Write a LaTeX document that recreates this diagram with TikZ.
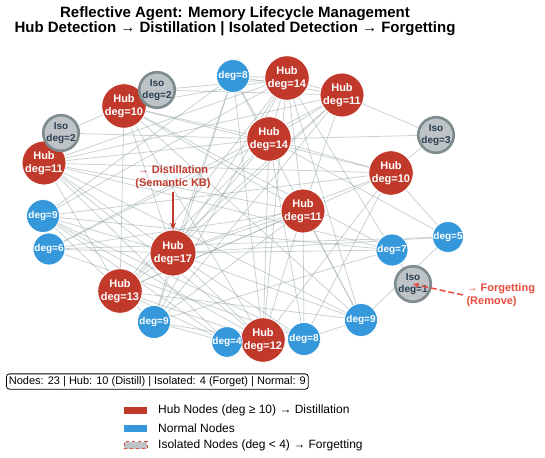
\documentclass[tikz,border=0pt]{standalone}
\usepackage{fontspec}
\setmainfont{Liberation Sans}
\usetikzlibrary{arrows.meta}
\pgfdeclarelayer{background}
\pgfsetlayers{background,main}

\definecolor{hubred}{HTML}{C0392B}
\definecolor{normblue}{HTML}{3498DB}
\definecolor{isofill}{HTML}{BDC3C7}
\definecolor{isoring}{HTML}{7F8C8D}
\definecolor{forgetred}{HTML}{E74C3C}
\definecolor{textdark}{HTML}{2C3E50}
\definecolor{edgegray}{HTML}{95A5A6}

\tikzset{
  hub/.style={circle, fill=hubred, draw=white, line width=0.8pt, text=white,
    inner sep=0pt, align=center, font=\bfseries\fontsize{11}{12.5}\selectfont},
  normal/.style={circle, fill=normblue, draw=white, line width=0.8pt, text=white,
    inner sep=0pt, align=center, font=\bfseries\fontsize{10}{12}\selectfont},
  isolated/.style={circle, fill=isofill, draw=isoring, line width=2.6pt, text=textdark,
    inner sep=0pt, minimum size=31pt, align=center, font=\bfseries\fontsize{10}{11.5}\selectfont},
  isomark/.style={forgetred, line width=1.4pt},
  link/.style={edgegray, opacity=0.5, line width=0.8pt},
  redlabel/.style={align=center, font=\bfseries\fontsize{11}{12.5}\selectfont},
  legendtext/.style={anchor=west, inner sep=0pt, font=\fontsize{12}{14}\selectfont},
}

\begin{document}
\begin{tikzpicture}[x=1pt,y=-1pt]
\useasboundingbox (0,0) rectangle (545,457);

% title
\node[align=center, inner sep=0pt, font=\bfseries\fontsize{15}{15}\selectfont] (title) at (235,21)
  {Reflective Agent: Memory Lifecycle Management\\Hub Detection → Distillation | Isolated Detection → Forgetting};

% hub nodes
\node[hub, minimum size=43pt] (h1) at (287,78) {Hub\\deg=14};
\node[hub, minimum size=41pt] (h2) at (342,95) {Hub\\deg=11};
\node[hub, minimum size=41pt] (h3) at (124,106) {Hub\\deg=10};
\node[hub, minimum size=43pt] (h4) at (269,139) {Hub\\deg=14};
\node[hub, minimum size=41pt] (h5) at (44,163) {Hub\\deg=11};
\node[hub, minimum size=41pt] (h6) at (391,173) {Hub\\deg=10};
\node[hub, minimum size=41pt] (h7) at (303,211) {Hub\\deg=11};
\node[hub, minimum size=46pt] (h8) at (173,253) {Hub\\deg=17};
\node[hub, minimum size=42pt] (h9) at (120,291) {Hub\\deg=13};
\node[hub, minimum size=41pt] (h10) at (263,340) {Hub\\deg=12};

% normal nodes
\node[normal, minimum size=33pt] (n1) at (233,76) {deg=8};
\node[normal, minimum size=33pt] (n2) at (43,216) {deg=9};
\node[normal, minimum size=32pt] (n3) at (49,249) {deg=6};
\node[normal, minimum size=32pt] (n4) at (392,250) {deg=7};
\node[normal, minimum size=31pt] (n5) at (448,237) {deg=5};
\node[normal, minimum size=33pt] (n6) at (154,322) {deg=9};
\node[normal, minimum size=30pt] (n7) at (227,342) {deg=4};
\node[normal, minimum size=33pt] (n8) at (304,339) {deg=8};
\node[normal, minimum size=33pt] (n9) at (361,320) {deg=9};

% isolated nodes, each with red forgetting marks on its rim
\foreach \p/\q in {157/90, 61/133, 436/135, 413/284}{
  \draw[isomark] (\p,\q) ++(-12:16.9pt) arc[start angle=-12, end angle=12, radius=16.9pt];
  \draw[isomark] (\p,\q) ++(168:16.9pt) arc[start angle=168, end angle=192, radius=16.9pt];
}
\node[isolated] (i1) at (157,90) {Iso\\deg=2};
\node[isolated] (i2) at (61,133) {Iso\\deg=2};
\node[isolated] (i3) at (436,135) {Iso\\deg=3};
\node[isolated] (i4) at (413,284) {Iso\\deg=1};

% graph edges
\begin{pgfonlayer}{background}
\foreach \a/\b in {
  i1/h1, i1/h2, i2/h3, i2/h4, i3/h2, i3/h4, i3/h6, i4/n4,
  h8/h1, h8/h2, h8/h3, h8/h4, h8/h5, h8/h6, h8/h7, h8/h9, h8/h10,
  h8/n1, h8/n2, h8/n3, h8/n4, h8/n6, h8/n8, h8/n9, h8/n5,
  h1/h2, h1/h3, h1/h4, h1/h5, h1/h7, h1/h9, h1/h10, h1/n1, h1/n2, h1/n6, h1/n9, h1/n4,
  h4/h2, h4/h3, h4/h5, h4/h6, h4/h9, h4/h10, h4/n1, h4/n3, h4/n8, h4/n5,
  h9/h2, h9/h3, h9/h5, h9/h6, h9/h7, h9/h10, h9/n2, h9/n6, h9/n7, h9/n9,
  h10/h3, h10/h5, h10/h6, h10/h7, h10/n1, h10/n6, h10/n8, h10/n2,
  h7/h2, h7/h3, h7/h5, h7/n3, h7/n6, h7/n8, h7/n9,
  h5/h2, h5/h6, h5/n4, h5/n7, h5/n9,
  h6/h3, h6/n2, h6/n5, h6/n8,
  h2/n1, h2/n3, h2/n6,
  h3/n4, h3/n9,
  n1/n2, n1/n6, n1/n9, n2/n4, n2/n7, n2/n8, n3/n5, n3/n8, n4/n6, n5/n9, n6/n7, n8/n9}
  \draw[link] (\a) -- (\b);
\end{pgfonlayer}

% distillation annotation
\node[redlabel, text=hubred] (distill) at (173,177) {→ Distillation\\(Semantic KB)};
\draw[hubred, line width=1.5pt, -{Stealth[length=7pt,width=6pt]}] (distill.south) -- (h8.north);

% forgetting annotation
\node[redlabel, text=forgetred, align=left, anchor=west] (forget) at (463,295) {→ Forgetting\\(Remove)};
\draw[forgetred, line width=1.5pt, dash pattern=on 6pt off 3pt, -{Stealth[length=6pt,width=5pt]}] (forget.west) -- (i4.center);

% statistics box
\node[draw=black, line width=0.8pt, rounded corners=3pt, fill=white, inner sep=2.5pt,
      font=\fontsize{11}{13}\selectfont, anchor=west] (stats) at (6,381.5)
  {Nodes: 23 | Hub: 10 (Distill) | Isolated: 4 (Forget) | Normal: 9};

% legend
\node[fill=hubred, minimum width=23pt, minimum height=7pt, inner sep=0pt] (lg1) at (135.5,410) {};
\node[fill=normblue, minimum width=23pt, minimum height=7pt, inner sep=0pt] (lg2) at (135.5,428) {};
\node[fill=isofill, draw=forgetred, dashed, line width=0.8pt, minimum width=23pt, minimum height=7pt, inner sep=0pt] (lg3) at (135.5,445) {};
\node[legendtext] (lt1) at (158,410) {Hub Nodes (deg ≥ 10) → Distillation};
\node[legendtext] (lt2) at (158,428) {Normal Nodes};
\node[legendtext] (lt3) at (158,445) {Isolated Nodes (deg < 4) → Forgetting};
\end{tikzpicture}
\end{document}
